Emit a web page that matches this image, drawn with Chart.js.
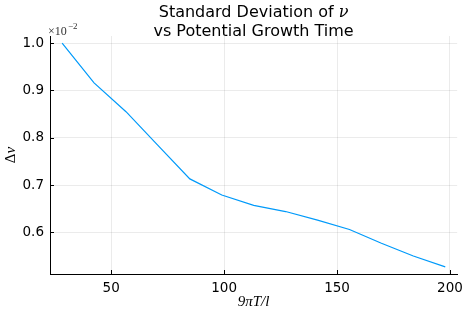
<!DOCTYPE html>
<html>
<head>
<meta charset="utf-8">
<script src="https://cdn.jsdelivr.net/npm/chart.js@4/dist/chart.umd.min.js"></script>
<style>
html,body{margin:0;padding:0;background:#fff;}
#wrap{width:469px;height:313px;position:relative;}
</style>
</head>
<body>
<div id="wrap"><canvas id="myChart"></canvas></div>
<script>
//データ (9πT/l と Δν、Δνは ×10^-2 の単位)
var growth_time = [28.27, 42.41, 56.55, 70.69, 84.82, 98.96, 113.10, 127.23, 141.37, 155.51, 169.65, 183.78, 197.92];
var std_nu = [1.000, 0.916, 0.855, 0.784, 0.713, 0.679, 0.657, 0.644, 0.626, 0.606, 0.577, 0.550, 0.527];
var x_tick_values = [50, 100, 150, 200];
var y_tick_values = [0.6, 0.7, 0.8, 0.9, 1.0];
var title_lines = ["Standard Deviation of ", "vs Potential Growth Time"];

var points = growth_time.map(function(x, i){ return {x: x, y: std_nu[i]}; });

//タイトル、軸ラベル、内向きの目盛りを描くプラグイン
var extra_text = {
    id: 'extra_text',
    afterDraw: function(chart){
        var ctx = chart.ctx;
        var area = chart.chartArea;
        var xs = chart.scales.x, ys = chart.scales.y;
        var cx = (area.left + area.right) / 2;
        ctx.save();
        //内向きの目盛り
        ctx.strokeStyle = '#000';
        ctx.lineWidth = 1;
        ctx.beginPath();
        x_tick_values.forEach(function(v){
            var px = Math.round(xs.getPixelForValue(v)) + 0.5;
            ctx.moveTo(px, area.bottom); ctx.lineTo(px, area.bottom - 4);
        });
        y_tick_values.forEach(function(v){
            var py = Math.round(ys.getPixelForValue(v)) + 0.5;
            ctx.moveTo(area.left, py); ctx.lineTo(area.left + 4, py);
        });
        ctx.stroke();
        //タイトル
        ctx.fillStyle = '#000';
        ctx.textBaseline = 'alphabetic';
        ctx.font = '16px "DejaVu Sans"';
        var w1 = ctx.measureText(title_lines[0]).width;
        ctx.font = 'italic 16px "DejaVu Serif"';
        var w2 = ctx.measureText('ν').width;
        var start = cx - (w1 + w2) / 2;
        ctx.textAlign = 'left';
        ctx.font = '16px "DejaVu Sans"';
        ctx.fillText(title_lines[0], start, 17);
        ctx.font = 'italic 16px "DejaVu Serif"';
        ctx.fillText('ν', start + w1, 17);
        ctx.font = '16px "DejaVu Sans"';
        ctx.textAlign = 'center';
        ctx.fillText(title_lines[1], cx, 36);
        //x軸ラベル
        ctx.font = 'italic 15px "Liberation Serif"';
        ctx.fillText('9πT/l', cx, 306);
        //y軸ラベル
        ctx.save();
        ctx.translate(15, (area.top + area.bottom) / 2);
        ctx.rotate(-Math.PI / 2);
        ctx.font = '15px "Liberation Serif"';
        var wd = ctx.measureText('Δ').width;
        ctx.font = 'italic 15px "Liberation Serif"';
        var wn = ctx.measureText('ν').width;
        ctx.textAlign = 'left';
        ctx.font = '15px "Liberation Serif"';
        ctx.fillText('Δ', -(wd + wn) / 2, 0);
        ctx.font = 'italic 15px "Liberation Serif"';
        ctx.fillText('ν', -(wd + wn) / 2 + wd, 0);
        ctx.restore();
        //×10^-2
        ctx.textAlign = 'left';
        ctx.fillStyle = '#333';
        ctx.font = '12px "Liberation Serif"';
        ctx.fillText('×10', 48, 35);
        ctx.font = '9px "Liberation Serif"';
        ctx.fillText('−2', 68, 29);
        ctx.restore();
    }
};

var ctx = document.getElementById('myChart');
var chart = new Chart(ctx, {
    type: 'scatter',
    data: {
        datasets: [{
            data: points,
            showLine: true,
            borderColor: '#009AFA',
            borderWidth: 1.2,
            pointRadius: 0,
            fill: false
        }]
    },
    options: {
        responsive: true,
        maintainAspectRatio: false,
        animation: false,
        layout: {padding: {top: 36, right: 9, left: 0, bottom: 0}},
        plugins: {legend: {display: false}, tooltip: {enabled: false}, title: {display: false}},
        scales: {
            x: {
                type: 'linear',
                min: 22.9,
                max: 203.2,
                afterBuildTicks: function(scale){ scale.ticks = x_tick_values.map(function(v){ return {value: v}; }); },
                afterFit: function(scale){ scale.height = 39; },
                grid: {color: 'rgba(0,0,0,0.08)', drawTicks: false},
                border: {display: true, color: '#000', width: 1},
                ticks: {color: '#000', padding: 6, font: {family: 'DejaVu Sans', size: 13.5}, maxRotation: 0}
            },
            y: {
                min: 0.512,
                max: 1.015,
                afterBuildTicks: function(scale){ scale.ticks = y_tick_values.map(function(v){ return {value: v}; }); },
                afterFit: function(scale){ scale.width = 50; },
                grid: {color: 'rgba(0,0,0,0.08)', drawTicks: false},
                border: {display: true, color: '#000', width: 1},
                ticks: {color: '#000', padding: 6, font: {family: 'DejaVu Sans', size: 13.5},
                    callback: function(v){ return v.toFixed(1); }}
            }
        }
    },
    plugins: [extra_text]
});
</script>
</body>
</html>
